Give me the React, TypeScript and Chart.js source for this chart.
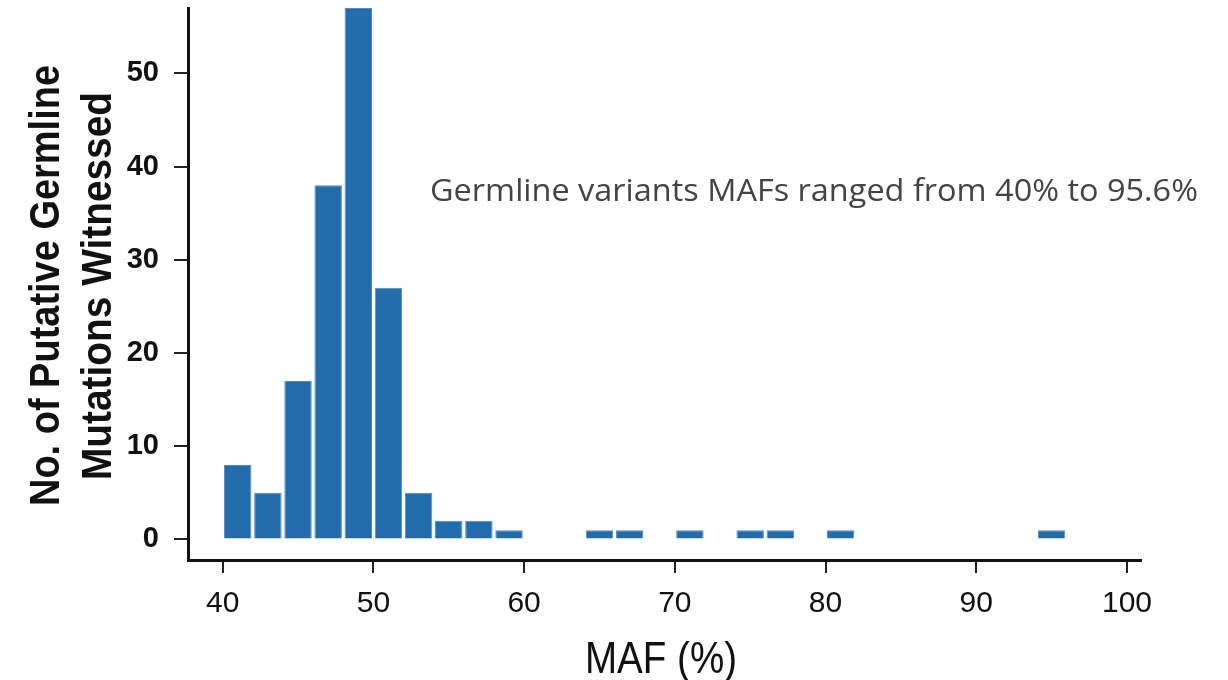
import React, { useEffect, useRef } from "react";
import { Chart, registerables } from "chart.js";

Chart.register(...registerables);

const binStarts = [40, 42, 44, 46, 48, 50, 52, 54, 56, 58, 64, 66, 70, 74, 76, 80, 94];
const counts = [8, 5, 17, 38, 57, 27, 5, 2, 2, 1, 1, 1, 1, 1, 1, 1, 1];
const binWidth = 2;
const xTicks = [40, 50, 60, 70, 80, 90, 100];
const yTicks = [0, 10, 20, 30, 40, 50];
const yTitleLines = ["No. of Putative Germline", "Mutations Witnessed"];
const xTitle = "MAF (%)";
const note = "Germline variants MAFs ranged from 40% to 95.6%";

function drawFit(ctx: any, text: string, x: number, y: number, targetW: number, font: string, color: string, rot: boolean) {
  ctx.save();
  ctx.font = font;
  ctx.fillStyle = color;
  ctx.textBaseline = "alphabetic";
  ctx.textAlign = "center";
  const w = ctx.measureText(text).width;
  const s = targetW / w;
  ctx.translate(x, y);
  if (rot) ctx.rotate(-Math.PI / 2);
  ctx.scale(s, 1);
  ctx.fillText(text, 0, 0);
  ctx.restore();
}

const textPlugin = {
  id: "texts",
  afterDraw(chart: any) {
    const ctx = chart.ctx;
    drawFit(ctx, yTitleLines[0], 59, 285.5, 441, 'bold 43px "Liberation Sans"', "#111", true);
    drawFit(ctx, yTitleLines[1], 111, 286, 388, 'bold 43px "Liberation Sans"', "#111", true);
    drawFit(ctx, xTitle, 661, 673, 152, '44px "Liberation Sans"', "#111", false);
    drawFit(ctx, note, 814, 201, 768, '31px "Open Sans"', "#444", false);
  },
};

export default function App() {
  const ref = useRef<HTMLCanvasElement | null>(null);
  useEffect(() => {
    if (!ref.current) return;
    const chart = new Chart(ref.current, {
      type: "bar",
      data: {
        datasets: [
          {
            data: binStarts.map((s, i) => ({ x: s + binWidth / 2, y: counts[i] })),
            backgroundColor: "#236cac",
            borderColor: "#4f8cc6",
            borderWidth: 1,
            barPercentage: 0.91,
            categoryPercentage: 1,
          },
        ],
      },
      options: {
        animation: false,
        responsive: false,
        devicePixelRatio: 1,
        layout: { padding: { left: 0, top: 8, right: 87, bottom: 0 } },
        plugins: { legend: { display: false }, tooltip: { enabled: false }, title: { display: false } },
        scales: {
          x: {
            type: "linear",
            min: 37.7,
            max: 100.93,
            offset: false,
            afterBuildTicks: (scale: any) => {
              scale.ticks = xTicks.map((v) => ({ value: v }));
            },
            afterFit: (scale: any) => {
              scale.height = 120;
              scale.paddingLeft = 0;
              scale.paddingRight = 0;
            },
            grid: { display: true, drawOnChartArea: false, drawTicks: true, tickLength: 13, color: "#222", lineWidth: 2, offset: false },
            border: { display: true, color: "#111", width: 3 },
            ticks: { color: "#111", font: { family: "Liberation Sans", size: 30 }, padding: 13, maxRotation: 0, autoSkip: false },
          },
          y: {
            type: "linear",
            min: -2.2,
            max: 57,
            afterBuildTicks: (scale: any) => {
              scale.ticks = yTicks.map((v) => ({ value: v }));
            },
            afterFit: (scale: any) => {
              scale.width = 188;
              scale.paddingTop = 0;
              scale.paddingBottom = 0;
            },
            grid: { display: true, drawOnChartArea: false, drawTicks: true, tickLength: 14, color: "#222", lineWidth: 2 },
            border: { display: true, color: "#111", width: 3 },
            ticks: { color: "#111", font: { family: "Liberation Sans", size: 29, weight: "bold" }, padding: 15 },
          },
        },
      },
      plugins: [textPlugin],
    });
    return () => chart.destroy();
  }, []);
  return (
    <div style={{ position: "fixed", left: 0, top: 0, width: 1228, height: 680, background: "#fff" }}>
      <canvas ref={ref} width={1228} height={680} style={{ width: 1228, height: 680 }} />
    </div>
  );
}
